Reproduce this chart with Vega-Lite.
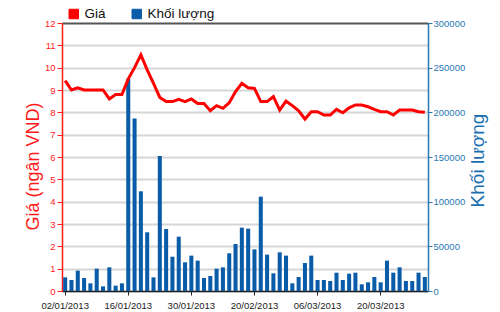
{
  "$schema": "https://vega.github.io/schema/vega-lite/v6.json",
  "autosize": "none",
  "width": 366,
  "height": 268,
  "padding": {"left": 62, "top": 23, "right": 72, "bottom": 21},
  "background": "white",
  "config": {
    "font": "Liberation Sans",
    "view": {"stroke": null}
  },
  "data": {"values": [
    {"d": "02/01/2013", "p": 9.42, "v": 15300},
    {"d": "03/01/2013", "p": 9.0, "v": 12300},
    {"d": "04/01/2013", "p": 9.1, "v": 22800},
    {"d": "07/01/2013", "p": 9.0, "v": 14500},
    {"d": "08/01/2013", "p": 9.0, "v": 8600},
    {"d": "09/01/2013", "p": 9.0, "v": 25000},
    {"d": "10/01/2013", "p": 9.0, "v": 5200},
    {"d": "11/01/2013", "p": 8.6, "v": 26500},
    {"d": "14/01/2013", "p": 8.8, "v": 6000},
    {"d": "15/01/2013", "p": 8.8, "v": 8600},
    {"d": "16/01/2013", "p": 9.5, "v": 237500},
    {"d": "17/01/2013", "p": 10.0, "v": 193000},
    {"d": "18/01/2013", "p": 10.57, "v": 111600},
    {"d": "21/01/2013", "p": 9.9, "v": 65700},
    {"d": "22/01/2013", "p": 9.3, "v": 15300},
    {"d": "23/01/2013", "p": 8.67, "v": 151000},
    {"d": "24/01/2013", "p": 8.48, "v": 69400},
    {"d": "25/01/2013", "p": 8.48, "v": 38400},
    {"d": "28/01/2013", "p": 8.58, "v": 60800},
    {"d": "29/01/2013", "p": 8.48, "v": 32100},
    {"d": "30/01/2013", "p": 8.6, "v": 39600},
    {"d": "31/01/2013", "p": 8.4, "v": 34000},
    {"d": "01/02/2013", "p": 8.4, "v": 14500},
    {"d": "04/02/2013", "p": 8.07, "v": 16800},
    {"d": "05/02/2013", "p": 8.3, "v": 25000},
    {"d": "06/02/2013", "p": 8.18, "v": 26500},
    {"d": "07/02/2013", "p": 8.43, "v": 42200},
    {"d": "08/02/2013", "p": 8.93, "v": 52600},
    {"d": "18/02/2013", "p": 9.3, "v": 70900},
    {"d": "19/02/2013", "p": 9.1, "v": 69800},
    {"d": "20/02/2013", "p": 9.07, "v": 46600},
    {"d": "21/02/2013", "p": 8.48, "v": 105600},
    {"d": "22/02/2013", "p": 8.48, "v": 40700},
    {"d": "25/02/2013", "p": 8.7, "v": 19800},
    {"d": "26/02/2013", "p": 8.1, "v": 43300},
    {"d": "27/02/2013", "p": 8.5, "v": 39600},
    {"d": "28/02/2013", "p": 8.3, "v": 8600},
    {"d": "01/03/2013", "p": 8.07, "v": 15700},
    {"d": "04/03/2013", "p": 7.7, "v": 31300},
    {"d": "05/03/2013", "p": 8.03, "v": 39600},
    {"d": "06/03/2013", "p": 8.03, "v": 12300},
    {"d": "07/03/2013", "p": 7.88, "v": 12300},
    {"d": "08/03/2013", "p": 7.88, "v": 11200},
    {"d": "11/03/2013", "p": 8.13, "v": 20500},
    {"d": "12/03/2013", "p": 7.98, "v": 12300},
    {"d": "13/03/2013", "p": 8.2, "v": 19400},
    {"d": "14/03/2013", "p": 8.33, "v": 20500},
    {"d": "15/03/2013", "p": 8.33, "v": 7500},
    {"d": "18/03/2013", "p": 8.25, "v": 9700},
    {"d": "19/03/2013", "p": 8.13, "v": 15700},
    {"d": "20/03/2013", "p": 8.03, "v": 9700},
    {"d": "21/03/2013", "p": 8.03, "v": 34000},
    {"d": "22/03/2013", "p": 7.88, "v": 20500},
    {"d": "25/03/2013", "p": 8.1, "v": 26500},
    {"d": "26/03/2013", "p": 8.1, "v": 11200},
    {"d": "27/03/2013", "p": 8.1, "v": 11200},
    {"d": "28/03/2013", "p": 8.03, "v": 20500},
    {"d": "29/03/2013", "p": 8.0, "v": 15700}
  ]},
  "encoding": {
    "x": {
      "field": "d", "type": "ordinal", "sort": null,
      "scale": {"paddingInner": 0.36, "paddingOuter": 0.18},
      "axis": {
        "title": null,
        "values": ["02/01/2013", "16/01/2013", "30/01/2013", "20/02/2013", "06/03/2013", "20/03/2013"],
        "labelAngle": 0, "labelFontSize": 9.5, "labelColor": "#222222",
        "labelPadding": 5,
        "tickSize": 4, "tickColor": "#222222", "domainColor": "#222222", "domainWidth": 1.5,
        "grid": false
      }
    }
  },
  "layer": [
    {
      "mark": {"type": "bar", "color": "#0a5ca8"},
      "encoding": {
        "y": {
          "field": "v", "type": "quantitative",
          "scale": {"domain": [0, 300000], "nice": false},
          "axis": {
            "orient": "right", "title": "Khối lượng", "titleAngle": -90,
            "titleColor": "#1a6fb0", "titleFontSize": 19, "titleFontWeight": "normal",
            "titleX": 49, "titleY": 137, "titleAlign": "center", "titleBaseline": "middle",
            "format": "d",
            "values": [0, 50000, 100000, 150000, 200000, 250000, 300000],
            "labelColor": "#2878b4", "labelFontSize": 9.5, "labelPadding": 1,
            "tickColor": "#2878b4", "tickSize": 4, "domainColor": "#2878b4", "domainWidth": 1.5,
            "grid": false
          }
        },
        "color": {
          "datum": "Khối lượng",
          "scale": {"domain": ["Giá", "Khối lượng"], "range": ["#ff0000", "#0a5ca8"]},
          "legend": {
            "title": null, "orient": "none", "legendX": 5, "legendY": -16,
            "direction": "horizontal", "padding": 0, "columnPadding": 24,
            "symbolType": "square", "symbolSize": 90, "symbolStrokeColor": "#000000",
            "symbolStrokeWidth": 1, "labelFontSize": 13.5, "labelColor": "#111111", "labelOffset": 4,
            "encode": {"symbols": {"update": {"fill": {"scale": "color", "field": "value"}, "fillOpacity": {"value": 1}, "stroke": {"value": "#000000"}, "shape": {"value": "square"}}}}
          }
        }
      }
    },
    {
      "mark": {"type": "line", "color": "#ff0000", "strokeWidth": 3},
      "encoding": {
        "y": {
          "field": "p", "type": "quantitative",
          "scale": {"domain": [0, 12], "nice": false},
          "axis": {
            "orient": "left", "title": "Giá (ngân VND)",
            "titleColor": "#ff1a1a", "titleFontSize": 18, "titleFontWeight": "normal",
            "titleX": -29, "titleY": 143, "titleAlign": "center", "titleBaseline": "middle",
            "values": [0, 1, 2, 3, 4, 5, 6, 7, 8, 9, 10, 11, 12],
            "labelColor": "#ff1a1a", "labelFontSize": 9.5, "labelPadding": 2,
            "tickColor": "#ff1a1a", "tickSize": 5, "domainColor": "#ff1a1a", "domainWidth": 1.5,
            "grid": true,
            "gridColor": {"condition": {"test": "datum.value === 12", "value": "#555555"}, "value": "#d6d6d6"},
            "gridWidth": 2
          }
        },
        "color": {"datum": "Giá"}
      }
    }
  ],
  "resolve": {"scale": {"y": "independent"}}
}
